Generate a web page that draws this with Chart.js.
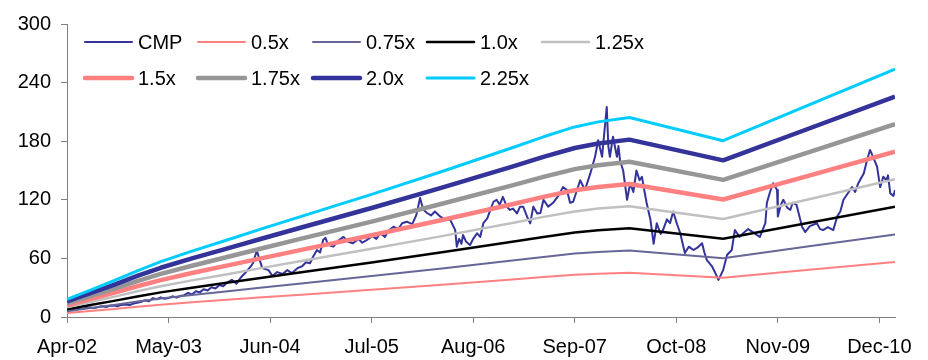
<!DOCTYPE html>
<html>
<head>
<meta charset="utf-8">
<title>CMP vs P/BV bands</title>
<script src="https://cdn.jsdelivr.net/npm/chart.js@4/dist/chart.umd.min.js"></script>
<style>
  html, body { margin: 0; padding: 0; background: #ffffff; }
  #wrap { width: 928px; height: 360px; position: relative; }
</style>
</head>
<body>
<div id="wrap"><canvas id="chart" width="928" height="360"></canvas></div>
<script>
// X positions are months counted from Apr-02 (0 = Apr-02).
const tickMonths = [0, 13, 26, 39, 52, 65, 78, 91, 104];
const tickLabels = ["Apr-02", "May-03", "Jun-04", "Jul-05", "Aug-06", "Sep-07", "Oct-08", "Nov-09", "Dec-10"];
const yTicks = [0, 60, 120, 180, 240, 300];

// Price-to-book band lines (kink points, in months)
const bandMonths = [0, 3, 6, 9, 12, 16, 20, 25, 30, 39, 48, 57, 61, 65, 68, 72, 84, 95, 106];
const band050 = [4.0, 6.1, 8.3, 10.5, 12.6, 15.0, 17.3, 20.1, 22.9, 27.9, 33.1, 38.5, 41.0, 43.3, 44.4, 45.4, 40.1, 48.3, 56.4];
const band075 = [6.0, 9.2, 12.4, 15.8, 18.9, 22.5, 25.9, 30.2, 34.4, 41.9, 49.7, 57.8, 61.5, 64.9, 66.6, 68.1, 60.2, 72.4, 84.6];
const band100 = [8.0, 12.2, 16.5, 21.0, 25.2, 30.0, 34.5, 40.2, 45.8, 55.8, 66.2, 77.0, 82.0, 86.5, 88.8, 90.8, 80.2, 96.5, 112.8];
const band125 = [10.0, 15.3, 20.6, 26.3, 31.5, 37.5, 43.1, 50.3, 57.3, 69.8, 82.8, 96.3, 102.5, 108.1, 111.0, 113.5, 100.3, 120.6, 141.0];
const band150 = [12.0, 18.3, 24.8, 31.5, 37.8, 45.0, 51.8, 60.3, 68.7, 83.7, 99.3, 115.5, 123.0, 129.8, 133.2, 136.2, 120.3, 144.8, 169.2];
const band175 = [14.0, 21.4, 28.9, 36.8, 44.1, 52.5, 60.4, 70.4, 80.2, 97.7, 115.9, 134.8, 143.5, 151.4, 155.4, 158.9, 140.4, 168.9, 197.4];
const band200 = [16.0, 24.4, 33.0, 42.0, 50.4, 60.0, 69.0, 80.4, 91.6, 111.6, 132.4, 154.0, 164.0, 173.0, 177.6, 181.6, 160.4, 193.0, 225.6];
const band225 = [18.0, 27.5, 37.1, 47.3, 56.7, 67.5, 77.6, 90.5, 103.1, 125.6, 149.0, 173.3, 184.5, 194.6, 199.8, 204.3, 180.5, 217.1, 253.8];

// Current market price
const cmpMonth = [
  0, 0.5, 1, 1.5, 2, 2.5, 3, 3.5, 4, 4.5, 5, 5.5, 6, 6.5, 7, 7.5, 8, 8.5, 9, 9.5,
  10, 10.5, 11, 11.5, 12, 12.5, 13, 13.5, 14, 14.5, 15, 15.5, 16, 16.5, 17, 17.5, 18, 18.5, 19, 19.5,
  20, 20.5, 21.1, 21.7, 22.2, 22.8, 23.5, 23.8, 24.3, 24.6, 25.0, 25.8, 26.3, 26.9, 27.6, 28.2, 28.8, 29.5,
  30.1, 30.6, 31.1, 31.5, 32.0, 32.4, 32.8, 33.1, 33.4, 34.1, 34.7, 35.4, 36.0, 36.6, 37.3, 37.8, 38.4,
  39.1, 39.6, 40.1, 40.7, 41.1, 41.8, 42.4, 42.9, 43.5, 44.2, 44.7, 45.2, 45.6, 46.1, 46.6, 47.1, 47.8,
  48.4, 49.1, 49.4, 49.7, 49.9, 50.2, 50.5, 50.7, 51.1, 51.6, 52.0, 52.5, 52.9, 53.3, 53.8, 54.2, 54.6,
  55.0, 55.4, 55.8, 56.3, 56.7, 57.1, 57.6, 58.0, 58.4, 58.9, 59.3, 59.7, 60.2, 60.6, 61.0, 61.6, 62.2,
  62.9, 63.5, 64.0, 64.4, 64.8, 65.7, 66.3, 67.0, 67.6, 68.0, 68.5, 68.8, 69.1, 69.3, 69.5, 69.9, 70.4,
  70.6, 70.8, 71.2, 71.7, 72.1, 72.5, 72.9, 73.3, 73.6, 73.9, 74.2, 74.7, 75.1, 75.5, 76.0, 76.3, 76.8,
  77.2, 77.6, 78.1, 78.5, 79.1, 79.6, 80.2, 80.7, 81.3, 81.6, 81.9, 82.6, 83.0, 83.4, 84.0, 84.5, 85.1,
  85.5, 86.1, 86.6, 87.2, 87.8, 88.3, 88.7, 89.4, 89.6, 90.0, 90.4, 90.9, 91.0, 91.4, 91.7, 92.2, 92.6,
  92.9, 93.4, 94.1, 94.5, 95.1, 96.0, 96.4, 96.8, 97.4, 98.1, 98.6, 99.0, 99.4, 99.9, 100.5, 100.9, 101.3,
  102.0, 102.4, 102.8, 103.2, 103.7, 104.1, 104.5, 104.9, 105.1, 105.4, 105.8, 106.0
];
const cmpPrice = [
  7.5, 8.2, 7.6, 8.8, 8.3, 9.4, 9.8, 9.1, 10.3, 10.9, 10.2, 11.4, 11.8, 11.1, 12.4, 12.9, 12.2, 13.8, 14.5, 15.6,
  17.2, 16.1, 19.3, 18.2, 20.1, 18.6, 19.4, 21.2, 19.8, 21.5, 22.4, 24.6, 23.1, 26.3, 25.2, 28.4, 27.1, 30.5, 29.2, 32.6,
  31.4, 35.2, 38, 34, 40, 45, 51.5, 55, 68, 60, 50, 48, 42, 46, 44, 48, 45, 50,
  52, 56, 55, 61.7, 68.6, 66, 79, 81, 74, 72, 78, 82, 77, 75.5, 80, 76, 79,
  83, 80, 85.7, 82, 88, 92.5, 90, 96, 97.6, 95, 104, 121.8, 110, 106.5, 104, 108, 102.7,
  100, 99, 94, 89, 72, 80, 75, 84, 77, 73.7, 80, 85.7, 82, 96, 101, 109.6, 118,
  120, 115, 123, 113, 109.6, 111, 106, 113, 113, 102.7, 96, 113, 106, 106.5, 120, 113, 116.7,
  124, 133, 130, 117, 118, 140, 130, 147, 164, 181, 164, 190, 215, 175, 164, 184.6, 164,
  175, 160, 150, 120, 137, 128, 150, 140, 143.6, 130, 117, 99, 75, 96, 85, 89, 100,
  96, 108, 95, 86, 65.5, 72, 68.6, 71, 75.5, 66, 58.4, 51.5, 45, 38, 48, 63.5, 68.6,
  89, 82, 86, 90, 87, 84, 82, 96, 117, 128, 137, 130, 103, 115, 120, 112, 109.6,
  117, 114.7, 92.5, 87, 93, 96, 90, 89, 92, 89, 103, 108, 120, 126, 133, 128, 137,
  147, 160, 171, 164, 154, 133, 143.6, 140, 145, 126.6, 124, 130
];

const FONT = '"Liberation Sans", Arial, Helvetica, sans-serif';

function pairs(xs, ys) {
  return xs.map((x, i) => ({ x: x, y: ys[i] }));
}

function line(label, xs, ys, color, width, order) {
  return {
    label: label,
    data: pairs(xs, ys),
    borderColor: color,
    backgroundColor: color,
    borderWidth: width,
    pointRadius: 0,
    pointHoverRadius: 0,
    tension: 0,
    fill: false,
    borderJoinStyle: 'round',
    order: order
  };
}

// Two-row legend laid out on a fixed column grid
const gridLegend = {
  id: 'gridLegend',
  afterDraw(chart) {
    const ctx = chart.ctx;
    const cols = [84, 197, 312, 426, 541];
    const rows = [42, 78];
    chart.data.datasets.forEach((ds, i) => {
      const x = cols[i % 5];
      const y = rows[Math.floor(i / 5)];
      ctx.save();
      ctx.strokeStyle = ds.borderColor;
      ctx.lineWidth = ds.borderWidth;
      ctx.lineCap = 'round';
      ctx.beginPath();
      ctx.moveTo(x + 1, y);
      ctx.lineTo(x + 48, y);
      ctx.stroke();
      ctx.fillStyle = '#000000';
      ctx.font = '20px ' + FONT;
      ctx.textBaseline = 'middle';
      ctx.textAlign = 'left';
      ctx.fillText(ds.label, x + 54, y + 1);
      ctx.restore();
    });
  }
};

new Chart(document.getElementById('chart'), {
  type: 'line',
  data: {
    datasets: [
      line('CMP', cmpMonth, cmpPrice, '#333399', 2, 10),
      line('0.5x', bandMonths, band050, '#FF8080', 2, 9),
      line('0.75x', bandMonths, band075, '#666699', 2, 8),
      line('1.0x', bandMonths, band100, '#000000', 2.5, 7),
      line('1.25x', bandMonths, band125, '#C0C0C0', 2.5, 6),
      line('1.5x', bandMonths, band150, '#FF8080', 4.5, 5),
      line('1.75x', bandMonths, band175, '#969696', 4.5, 4),
      line('2.0x', bandMonths, band200, '#333399', 4.5, 3),
      line('2.25x', bandMonths, band225, '#00CCFF', 3, 2)
    ]
  },
  options: {
    responsive: false,
    devicePixelRatio: 1,
    animation: false,
    events: [],
    layout: { padding: { top: 24, right: 33, left: 0, bottom: 0 } },
    plugins: {
      legend: { display: false },
      tooltip: { enabled: false },
      title: { display: false }
    },
    scales: {
      x: {
        type: 'linear',
        min: 0,
        max: 106,
        afterBuildTicks(scale) {
          scale.ticks = tickMonths.map(v => ({ value: v }));
        },
        afterFit(scale) { scale.height = 43; },
        grid: {
          display: true,
          drawOnChartArea: false,
          drawTicks: true,
          tickLength: 6,
          color: '#808080',
          lineWidth: 1
        },
        border: { display: true, color: '#808080', width: 1 },
        ticks: {
          autoSkip: false,
          maxRotation: 0,
          padding: 12,
          color: '#000000',
          font: { family: FONT, size: 20 },
          callback(value) {
            const i = tickMonths.indexOf(value);
            return i >= 0 ? tickLabels[i] : '';
          }
        }
      },
      y: {
        type: 'linear',
        min: 0,
        max: 300,
        afterBuildTicks(scale) {
          scale.ticks = yTicks.map(v => ({ value: v }));
        },
        afterFit(scale) { scale.width = 67; },
        grid: {
          display: true,
          drawOnChartArea: false,
          drawTicks: true,
          tickLength: 6,
          color: '#808080',
          lineWidth: 1
        },
        border: { display: true, color: '#808080', width: 1 },
        ticks: {
          padding: 10,
          color: '#000000',
          font: { family: FONT, size: 20 }
        }
      }
    }
  },
  plugins: [gridLegend]
});
</script>
</body>
</html>
